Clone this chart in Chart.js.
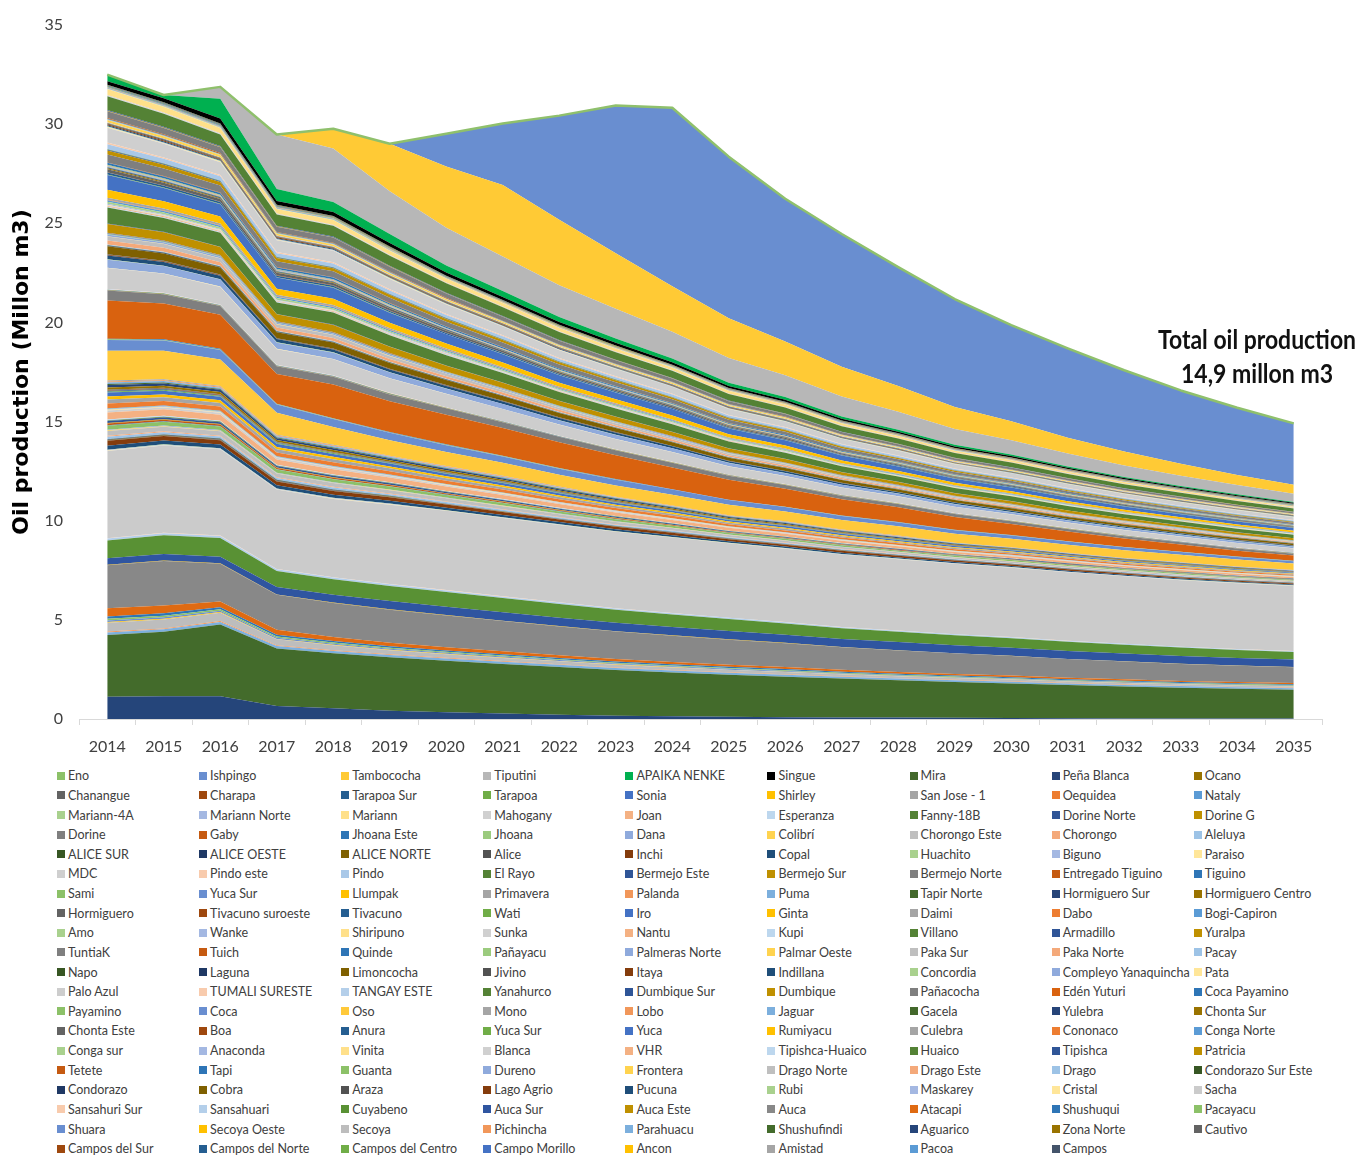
<!DOCTYPE html>
<html>
<head>
<meta charset="utf-8">
<script src="https://cdn.jsdelivr.net/npm/chart.js@4.4.1/dist/chart.umd.min.js"></script>
<style>
  body { margin: 0; background: #fff; width: 1360px; height: 1156px; position: relative; overflow: hidden; }
  #chart { position: absolute; left: 0; top: 0; }
  #legend {
    position: absolute; left: 57px; top: 766px;
    display: grid; grid-template-columns: repeat(9, 142.1px); grid-auto-rows: 19.63px;
    font: 12.5px Lato, sans-serif; color: #404040;
  }
  .item { display: flex; align-items: center; white-space: nowrap; }
  .box { width: 8px; height: 8px; margin-right: 3px; flex: none; }
</style>
</head>
<body>
<canvas id="chart" width="1360" height="765"></canvas>
<div id="legend"></div>
<script>
// values in hundredths of millon m3, one row per field, legend order (top of stack first)
const years = ['2014','2015','2016','2017','2018','2019','2020','2021','2022','2023','2024',
               '2025','2026','2027','2028','2029','2030','2031','2032','2033','2034','2035'];

const topFields = ['Eno','Ishpingo','Tambococha','Tiputini','APAIKA NENKE','Singue'];
const topValues = [
  [0,0,0,0,0,0,0,0,0,0,0,0,0,0,0,0,0,0,0,0,0,0],
  [0,0,0,0,0,0,165,310,525,745,900,815,720,670,600,545,485,450,410,370,340,310],
  [0,0,0,0,100,240,310,360,330,280,230,200,170,150,130,110,95,80,70,60,50,45],
  [0,0,60,275,270,215,190,175,160,150,135,125,110,100,90,80,72,65,58,52,47,42],
  [34,17,100,60,50,45,35,30,26,22,19,16,14,12,10,9,8,7,6,5,5,4],
  [17,20,25,20,20,18,16,15,14,13,12,11,10,9,8,7,7,6,6,5,5,5]
];

const upperFields = ['Mira','Peña Blanca','Ocano','Chanangue','Charapa','Tarapoa Sur','Tarapoa','Sonia','Shirley',
  'San Jose - 1','Oequidea','Nataly','Mariann-4A','Mariann Norte','Mariann','Mahogany','Joan','Esperanza',
  'Fanny-18B','Dorine Norte','Dorine G','Dorine','Gaby','Jhoana Este','Jhoana','Dana','Colibrí',
  'Chorongo Este','Chorongo','Aleluya'];
const upperValues = [
  [2,2,2,2,2,2,1,1,1,1,1,1,1,1,1,1,1,1,1,1,1,1],
  [1,1,1,1,1,1,1,1,1,1,1,1,1,1,1,1,1,1,1,1,1,1],
  [1,1,1,1,1,1,1,1,1,1,1,1,1,1,1,1,1,1,1,1,1,1],
  [1,1,1,1,1,1,1,1,1,1,1,1,1,1,1,1,1,1,1,1,1,1],
  [1,1,1,1,1,1,1,1,1,1,1,1,1,1,1,1,1,1,1,1,1,1],
  [2,2,2,2,2,2,1,1,1,1,1,1,1,1,1,1,1,1,1,1,1,1],
  [3,3,3,2,2,2,2,2,2,2,1,1,1,1,1,1,1,1,1,1,1,1],
  [2,2,2,2,2,2,1,1,1,1,1,1,1,1,1,1,1,1,1,1,1,1],
  [1,1,1,1,1,1,1,1,1,1,1,1,1,1,1,1,1,1,1,1,1,1],
  [2,2,2,2,2,2,1,1,1,1,1,1,1,1,1,1,1,1,1,1,1,1],
  [1,1,1,1,1,1,1,1,1,1,1,1,1,1,1,1,1,1,1,1,1,1],
  [2,2,2,2,2,2,1,1,1,1,1,1,1,1,1,1,1,1,1,1,1,1],
  [2,2,2,2,2,2,1,1,1,1,1,1,1,1,1,1,1,1,1,1,1,1],
  [1,1,1,1,1,1,1,1,1,1,1,1,1,1,1,1,1,1,1,1,1,1],
  [30,29,27,23,23,21,20,18,17,15,14,13,12,11,10,9,9,8,8,7,7,6],
  [3,3,3,2,2,2,2,2,2,2,1,1,1,1,1,1,1,1,1,1,1,1],
  [1,1,1,1,1,1,1,1,1,1,1,1,1,1,1,1,1,1,1,1,1,1],
  [2,2,2,2,2,2,1,1,1,1,1,1,1,1,1,1,1,1,1,1,1,1],
  [70,66,58,56,55,50,47,44,41,38,36,33,30,28,26,24,23,21,20,19,18,17],
  [4,4,4,3,3,3,3,2,2,2,2,2,2,1,1,1,1,1,1,1,1,1],
  [2,2,2,2,2,2,1,1,1,1,1,1,1,1,1,1,1,1,1,1,1,1],
  [34,32,30,27,26,24,22,20,19,17,16,14,13,12,11,10,10,9,8,8,7,7],
  [4,4,4,3,3,3,3,2,2,2,2,2,2,1,1,1,1,1,1,1,1,1],
  [2,2,2,2,2,2,1,1,1,1,1,1,1,1,1,1,1,1,1,1,1,1],
  [2,2,2,2,2,2,1,1,1,1,1,1,1,1,1,1,1,1,1,1,1,1],
  [2,2,2,2,2,2,1,1,1,1,1,1,1,1,1,1,1,1,1,1,1,1],
  [12,11,11,9,9,8,8,7,6,6,6,5,5,4,4,4,3,3,3,3,3,2],
  [1,1,1,1,1,1,1,1,1,1,1,1,1,1,1,1,1,1,1,1,1,1],
  [1,1,1,1,1,1,1,1,1,1,1,1,1,1,1,1,1,1,1,1,1,1],
  [1,1,1,1,1,1,1,1,1,1,1,1,1,1,1,1,1,1,1,1,1,1]
];

const centralFields = ['ALICE SUR','ALICE OESTE','ALICE NORTE','Alice','Inchi','Copal','Huachito','Biguno','Paraiso',
  'MDC','Pindo este','Pindo','El Rayo','Bermejo Este','Bermejo Sur','Bermejo Norte','Entregado Tiguino','Tiguino',
  'Sami','Yuca Sur','Llumpak','Primavera','Palanda','Puma','Tapir Norte','Hormiguero Sur','Hormiguero  Centro',
  'Hormiguero','Tivacuno suroeste','Tivacuno','Wati','Iro','Ginta','Daimi','Dabo','Bogi-Capiron'];
const centralValues = [
  [1,1,1,1,1,1,1,1,1,1,1,1,1,1,1,1,1,1,1,1,1,1],
  [1,1,1,1,1,1,1,1,1,1,1,1,1,1,1,1,1,1,1,1,1,1],
  [1,1,1,1,1,1,1,1,1,1,1,1,1,1,1,1,1,1,1,1,1,1],
  [4,4,4,3,3,3,3,2,2,2,2,2,2,1,1,1,1,1,1,1,1,1],
  [5,5,4,4,4,3,3,3,3,2,2,2,2,2,2,1,1,1,1,1,1,1],
  [5,5,4,4,4,3,3,3,3,2,2,2,2,2,2,1,1,1,1,1,1,1],
  [2,2,2,2,2,2,1,1,1,1,1,1,1,1,1,1,1,1,1,1,1,1],
  [2,2,2,2,2,2,1,1,1,1,1,1,1,1,1,1,1,1,1,1,1,1],
  [3,3,3,2,2,2,2,2,2,2,1,1,1,1,1,1,1,1,1,1,1,1],
  [75,69,64,60,58,52,48,44,40,37,35,31,28,26,24,22,21,20,18,17,16,15],
  [8,7,7,6,6,6,5,5,4,4,4,3,3,3,3,2,2,2,2,2,2,2],
  [25,23,22,19,19,17,16,15,13,12,12,10,9,9,8,7,7,7,6,6,5,5],
  [3,3,3,2,2,2,2,2,2,2,1,1,1,1,1,1,1,1,1,1,1,1],
  [4,4,4,3,3,3,3,2,2,2,2,2,2,1,1,1,1,1,1,1,1,1],
  [20,19,18,16,15,14,13,12,11,10,9,8,8,7,6,6,6,5,5,5,4,4],
  [40,38,35,30,30,27,25,23,21,19,18,16,15,14,13,12,11,10,10,9,9,8],
  [2,2,2,2,2,2,1,1,1,1,1,1,1,1,1,1,1,1,1,1,1,1],
  [10,9,9,8,8,7,6,6,5,5,5,4,4,3,3,3,3,3,2,2,2,2],
  [2,2,2,2,2,2,1,1,1,1,1,1,1,1,1,1,1,1,1,1,1,1],
  [2,2,2,2,2,2,1,1,1,1,1,1,1,1,1,1,1,1,1,1,1,1],
  [1,1,1,1,1,1,1,1,1,1,1,1,1,1,1,1,1,1,1,1,1,1],
  [2,2,2,2,2,2,1,1,1,1,1,1,1,1,1,1,1,1,1,1,1,1],
  [2,2,2,2,2,2,1,1,1,1,1,1,1,1,1,1,1,1,1,1,1,1],
  [3,3,3,2,2,2,2,2,2,2,1,1,1,1,1,1,1,1,1,1,1,1],
  [2,2,2,2,2,2,1,1,1,1,1,1,1,1,1,1,1,1,1,1,1,1],
  [4,4,4,3,3,3,3,2,2,2,2,2,2,1,1,1,1,1,1,1,1,1],
  [4,4,4,3,3,3,3,2,2,2,2,2,2,1,1,1,1,1,1,1,1,1],
  [15,14,13,12,12,10,10,9,8,7,7,6,6,5,5,4,4,4,4,3,3,3],
  [2,2,2,2,2,2,1,1,1,1,1,1,1,1,1,1,1,1,1,1,1,1],
  [10,9,9,8,8,7,6,6,5,5,5,4,4,3,3,3,3,3,2,2,2,2],
  [2,2,2,2,2,2,1,1,1,1,1,1,1,1,1,1,1,1,1,1,1,1],
  [75,67,62,56,56,50,46,42,38,35,33,29,27,25,23,21,20,19,17,16,15,14],
  [40,37,35,31,31,28,26,24,21,20,19,16,15,14,13,12,11,10,10,9,9,8],
  [10,9,9,8,8,7,6,6,5,5,5,4,4,3,3,3,3,3,2,2,2,2],
  [3,3,3,2,2,2,2,2,2,2,1,1,1,1,1,1,1,1,1,1,1,1],
  [8,7,7,6,6,6,5,5,4,4,4,3,3,3,3,2,2,2,2,2,2,2]
];

const middleFields = ['Amo','Wanke','Shiripuno','Sunka','Nantu','Kupi','Villano','Armadillo','Yuralpa',
  'TuntiaK','Tuich','Quinde','Pañayacu','Palmeras Norte','Palmar Oeste','Paka Sur','Paka Norte','Pacay',
  'Napo','Laguna','Limoncocha','Jivino','Itaya','Indillana','Concordia','Compleyo Yanaquincha','Pata',
  'Palo Azul','TUMALI SURESTE','TANGAY ESTE','Yanahurco','Dumbique Sur','Dumbique','Pañacocha','Edén Yuturi','Coca Payamino'];
const middleValues = [
  [10,9,9,8,8,7,6,6,5,5,5,4,4,3,3,3,3,3,2,2,2,2],
  [4,4,4,3,3,3,3,2,2,2,2,2,2,1,1,1,1,1,1,1,1,1],
  [3,3,3,2,2,2,2,2,2,2,1,1,1,1,1,1,1,1,1,1,1,1],
  [4,4,4,3,3,3,3,2,2,2,2,2,2,1,1,1,1,1,1,1,1,1],
  [4,4,4,3,3,3,3,2,2,2,2,2,2,1,1,1,1,1,1,1,1,1],
  [4,4,4,3,3,3,3,2,2,2,2,2,2,1,1,1,1,1,1,1,1,1],
  [80,70,70,58,61,56,52,48,44,41,38,34,31,29,27,25,24,22,20,19,18,17],
  [2,2,2,2,2,2,1,1,1,1,1,1,1,1,1,1,1,1,1,1,1,1],
  [45,42,40,35,35,31,29,27,24,22,21,18,17,15,14,13,13,12,11,10,10,9],
  [2,2,2,2,2,2,1,1,1,1,1,1,1,1,1,1,1,1,1,1,1,1],
  [2,2,2,2,2,2,1,1,1,1,1,1,1,1,1,1,1,1,1,1,1,1],
  [2,2,2,2,2,2,1,1,1,1,1,1,1,1,1,1,1,1,1,1,1,1],
  [3,3,3,2,2,2,2,2,2,2,1,1,1,1,1,1,1,1,1,1,1,1],
  [8,7,7,6,6,6,5,5,4,4,4,3,3,3,3,2,2,2,2,2,2,2],
  [2,2,2,2,2,2,1,1,1,1,1,1,1,1,1,1,1,1,1,1,1,1],
  [20,19,18,16,15,14,13,12,11,10,9,8,8,7,6,6,6,5,5,5,4,4],
  [20,19,18,16,15,14,13,12,11,10,9,8,8,7,6,6,6,5,5,5,4,4],
  [4,4,4,3,3,3,3,2,2,2,2,2,2,1,1,1,1,1,1,1,1,1],
  [2,2,2,2,2,2,1,1,1,1,1,1,1,1,1,1,1,1,1,1,1,1],
  [3,3,3,2,2,2,2,2,2,2,1,1,1,1,1,1,1,1,1,1,1,1],
  [40,37,35,31,31,28,26,24,21,20,19,16,15,14,13,12,11,10,10,9,9,8],
  [3,3,3,2,2,2,2,2,2,2,1,1,1,1,1,1,1,1,1,1,1,1],
  [3,3,3,2,2,2,2,2,2,2,1,1,1,1,1,1,1,1,1,1,1,1],
  [20,19,18,16,15,14,13,12,11,10,9,8,8,7,6,6,6,5,5,5,4,4],
  [2,2,2,2,2,2,1,1,1,1,1,1,1,1,1,1,1,1,1,1,1,1],
  [40,37,35,31,31,28,26,24,21,20,19,16,15,14,13,12,11,10,10,9,9,8],
  [2,2,2,2,2,2,1,1,1,1,1,1,1,1,1,1,1,1,1,1,1,1],
  [105,95,88,78,80,72,67,61,56,51,48,42,39,36,33,31,29,27,25,23,22,21],
  [2,2,2,2,2,2,1,1,1,1,1,1,1,1,1,1,1,1,1,1,1,1],
  [2,2,2,2,2,2,1,1,1,1,1,1,1,1,1,1,1,1,1,1,1,1],
  [2,2,2,2,2,2,1,1,1,1,1,1,1,1,1,1,1,1,1,1,1,1],
  [1,1,1,1,1,1,1,1,1,1,1,1,1,1,1,1,1,1,1,1,1,1],
  [1,1,1,1,1,1,1,1,1,1,1,1,1,1,1,1,1,1,1,1,1,1],
  [50,47,44,39,39,35,32,29,27,25,23,21,19,17,16,15,14,13,12,11,11,10],
  [193,180,172,150,170,155,150,140,130,120,110,100,90,82,75,65,55,48,42,36,30,26],
  [3,3,3,2,2,2,2,2,2,2,1,1,1,1,1,1,1,1,1,1,1,1]
];

const lowerFields = ['Payamino','Coca','Oso','Mono','Lobo','Jaguar','Gacela','Yulebra','Chonta Sur',
  'Chonta Este','Boa','Anura','Yuca Sur','Yuca','Rumiyacu','Culebra','Cononaco','Conga Norte',
  'Conga sur','Anaconda','Vinita','Blanca','VHR','Tipishca-Huaico','Huaico','Tipishca','Patricia',
  'Tetete','Tapi','Guanta','Dureno','Frontera','Drago Norte','Drago Este','Drago','Condorazo Sur Este',
  'Condorazo','Cobra','Araza','Lago Agrio','Pucuna','Rubi','Maskarey','Cristal','Sacha'];
const lowerValues = [
  [3,3,3,2,2,2,2,2,2,2,1,1,1,1,1,1,1,1,1,1,1,1],
  [55,52,48,42,40,37,35,32,30,28,26,24,22,20,19,18,17,16,15,14,13,12],
  [150,143,134,110,90,78,70,65,60,57,54,52,50,48,47,45,43,41,39,37,35,33],
  [5,5,4,4,4,3,3,3,3,2,2,2,2,2,2,1,1,1,1,1,1,1],
  [5,5,4,4,4,3,3,3,3,2,2,2,2,2,2,1,1,1,1,1,1,1],
  [8,7,7,6,6,6,5,5,4,4,4,3,3,3,3,2,2,2,2,2,2,2],
  [5,5,4,4,4,3,3,3,3,2,2,2,2,2,2,1,1,1,1,1,1,1],
  [12,11,11,9,9,8,8,7,6,6,6,5,5,4,4,4,3,3,3,3,3,2],
  [12,11,11,9,9,8,8,7,6,6,6,5,5,4,4,4,3,3,3,3,3,2],
  [3,3,3,2,2,2,2,2,2,2,1,1,1,1,1,1,1,1,1,1,1,1],
  [3,3,3,2,2,2,2,2,2,2,1,1,1,1,1,1,1,1,1,1,1,1],
  [3,3,3,2,2,2,2,2,2,2,1,1,1,1,1,1,1,1,1,1,1,1],
  [5,5,4,4,4,3,3,3,3,2,2,2,2,2,2,1,1,1,1,1,1,1],
  [20,19,18,16,15,14,13,12,11,10,9,8,8,7,6,6,6,5,5,5,4,4],
  [15,14,13,12,12,10,10,9,8,7,7,6,6,5,5,4,4,4,4,3,3,3],
  [20,19,18,16,15,14,13,12,11,10,9,8,8,7,6,6,6,5,5,5,4,4],
  [25,23,22,19,19,17,16,15,13,12,12,10,9,9,8,7,7,7,6,6,5,5],
  [2,2,2,2,2,2,1,1,1,1,1,1,1,1,1,1,1,1,1,1,1,1],
  [2,2,2,2,2,2,1,1,1,1,1,1,1,1,1,1,1,1,1,1,1,1],
  [3,3,3,2,2,2,2,2,2,2,1,1,1,1,1,1,1,1,1,1,1,1],
  [3,3,3,2,2,2,2,2,2,2,1,1,1,1,1,1,1,1,1,1,1,1],
  [10,9,9,8,8,7,6,6,5,5,5,4,4,3,3,3,3,3,2,2,2,2],
  [35,33,31,27,27,24,23,21,19,17,16,14,13,12,11,10,10,9,8,8,8,7],
  [5,5,4,4,4,3,3,3,3,2,2,2,2,2,2,1,1,1,1,1,1,1],
  [3,3,3,2,2,2,2,2,2,2,1,1,1,1,1,1,1,1,1,1,1,1],
  [10,9,9,8,8,7,6,6,5,5,5,4,4,3,3,3,3,3,2,2,2,2],
  [3,3,3,2,2,2,2,2,2,2,1,1,1,1,1,1,1,1,1,1,1,1],
  [8,7,7,6,6,6,5,5,4,4,4,3,3,3,3,2,2,2,2,2,2,2],
  [3,3,3,2,2,2,2,2,2,2,1,1,1,1,1,1,1,1,1,1,1,1],
  [20,19,18,16,15,14,13,12,11,10,9,8,8,7,6,6,6,5,5,5,4,4],
  [3,3,3,2,2,2,2,2,2,2,1,1,1,1,1,1,1,1,1,1,1,1],
  [3,3,3,2,2,2,2,2,2,2,1,1,1,1,1,1,1,1,1,1,1,1],
  [25,23,22,19,19,17,16,15,13,12,12,10,9,9,8,7,7,7,6,6,5,5],
  [5,5,4,4,4,3,3,3,3,2,2,2,2,2,2,1,1,1,1,1,1,1],
  [12,11,11,9,9,8,8,7,6,6,6,5,5,4,4,4,3,3,3,3,3,2],
  [2,2,2,2,2,2,1,1,1,1,1,1,1,1,1,1,1,1,1,1,1,1],
  [2,2,2,2,2,2,1,1,1,1,1,1,1,1,1,1,1,1,1,1,1,1],
  [2,2,2,2,2,2,1,1,1,1,1,1,1,1,1,1,1,1,1,1,1,1],
  [2,2,2,2,2,2,1,1,1,1,1,1,1,1,1,1,1,1,1,1,1,1],
  [25,23,22,19,19,17,16,15,13,12,12,10,9,9,8,7,7,7,6,6,5,5],
  [20,19,18,16,15,14,13,12,11,10,9,8,8,7,6,6,6,5,5,5,4,4],
  [2,2,2,2,2,2,1,1,1,1,1,1,1,1,1,1,1,1,1,1,1,1],
  [2,2,2,2,2,2,1,1,1,1,1,1,1,1,1,1,1,1,1,1,1,1],
  [2,2,2,2,2,2,1,1,1,1,1,1,1,1,1,1,1,1,1,1,1,1],
  [440,440,435,400,395,400,400,395,390,385,380,375,370,365,360,355,350,345,340,335,332,328]
];

const baseFields = ['Sansahuri Sur','Sansahuari','Cuyabeno','Auca Sur','Auca Este','Auca','Atacapi','Shushuqui',
  'Pacayacu','Shuara','Secoya Oeste','Secoya','Pichincha','Parahuacu','Shushufindi','Aguarico','Zona Norte',
  'Cautivo','Campos del Sur','Campos del Norte','Campos del Centro','Campo Morillo','Ancon','Amistad','Pacoa','Campos'];
const baseValues = [
  [2,2,2,2,2,2,2,2,2,2,2,1,1,1,1,1,1,1,1,1,1,1],
  [10,10,10,9,8,8,7,7,7,6,6,6,6,5,5,5,5,5,5,4,4,4],
  [89,95,95,80,78,76,75,72,69,66,63,60,57,54,52,50,48,46,44,42,40,38],
  [33,33,33,38,40,42,42,42,42,42,42,42,41,41,41,40,40,40,39,39,38,38],
  [2,2,2,2,2,2,2,2,2,2,2,2,2,1,1,1,1,1,1,1,1,1],
  [217,224,190,176,171,166,160,152,145,138,132,126,120,114,109,104,99,94,90,86,83,80],
  [42,40,30,25,20,18,16,15,14,13,12,11,10,10,9,8,8,7,7,6,6,6],
  [12,12,10,9,8,8,7,7,7,6,6,6,6,5,5,5,5,5,4,4,4,4],
  [8,8,7,6,6,5,5,5,4,4,4,4,4,3,3,3,3,3,3,3,3,3],
  [8,8,7,6,6,5,5,5,4,4,4,4,4,3,3,3,3,3,3,3,3,3],
  [3,3,3,2,2,2,2,2,2,2,2,1,1,1,1,1,1,1,1,1,1,1],
  [45,45,42,30,25,20,18,16,15,14,13,12,11,10,10,9,9,8,8,7,7,7],
  [5,5,5,4,4,4,4,3,3,3,3,3,3,3,2,2,2,2,2,2,2,2],
  [12,12,12,12,12,12,11,11,11,10,10,10,10,9,9,9,9,8,8,8,8,8],
  [312,325,362,290,277,269,260,250,240,230,220,212,204,196,188,181,174,167,161,155,150,145],
  [112,115,115,66,54,42,34,28,22,17,14,11,9,8,7,6,5,4,3,3,2,2],
  [0,0,0,0,0,0,0,0,0,0,0,0,0,0,0,0,0,0,0,0,0,0],
  [0,0,0,0,0,0,0,0,0,0,0,0,0,0,0,0,0,0,0,0,0,0],
  [0,0,0,0,0,0,0,0,0,0,0,0,0,0,0,0,0,0,0,0,0,0],
  [0,0,0,0,0,0,0,0,0,0,0,0,0,0,0,0,0,0,0,0,0,0],
  [0,0,0,0,0,0,0,0,0,0,0,0,0,0,0,0,0,0,0,0,0,0],
  [0,0,0,0,0,0,0,0,0,0,0,0,0,0,0,0,0,0,0,0,0,0],
  [0,0,0,0,0,0,0,0,0,0,0,0,0,0,0,0,0,0,0,0,0,0],
  [0,0,0,0,0,0,0,0,0,0,0,0,0,0,0,0,0,0,0,0,0,0],
  [0,0,0,0,0,0,0,0,0,0,0,0,0,0,0,0,0,0,0,0,0,0],
  [0,0,0,0,0,0,0,0,0,0,0,0,0,0,0,0,0,0,0,0,0,0]
];

const totalNote = ['Total oil production', '14,9 millon m3'];

// colours, same order as the legend
const fieldColors = [
  '#8CC168','#698ED0','#FFCA35','#B7B7B7','#00B050','#000000',
  '#43682B','#264478','#997300','#636363','#9E480E','#255E91','#70AD47','#4472C4','#FFC000','#A5A5A5',
  '#ED7D31','#5B9BD5','#A9D18E','#A4B8E2','#FFE08A','#D0D0D0','#F4B183','#BDD7EE','#548235','#2F5597',
  '#BF9000','#7F7F7F','#C55A11','#2E75B6','#9BCB7E','#8FAADC','#FFD34F','#BFBFBF','#F4A97A','#9DC3E6',
  '#375623','#1F3864','#7F6000','#525252','#843C0C','#1F4E79','#A9D18E','#A4B8E2','#FFE699','#CFCFCF',
  '#F8CBAD','#A9C8E8','#548235','#2F5597','#BF9000','#7F7F7F','#C55A11','#2E75B6','#8CC168','#698ED0',
  '#FFC000','#A5A5A5','#F1975A','#7CAFDD','#43682B','#264478','#997300','#636363','#9E480E','#255E91',
  '#70AD47','#4472C4','#FFC000','#A5A5A5','#ED7D31','#5B9BD5',
  '#A9D18E','#A4B8E2','#FFE08A','#D0D0D0','#F4B183','#BDD7EE','#548235','#2F5597','#BF9000','#7F7F7F',
  '#C55A11','#2E75B6','#9BCB7E','#8FAADC','#FFD34F','#BFBFBF','#F4A97A','#9DC3E6','#375623','#1F3864',
  '#7F6000','#525252','#843C0C','#1F4E79','#A9D18E','#8FAADC','#FFE699','#CDCDCD','#F8CBAD','#B4CFEA',
  '#548235','#2F5597','#BF9000','#7F7F7F','#D9620F','#2E75B6',
  '#8CC168','#698ED0','#FFC93A','#A5A5A5','#F1975A','#7CAFDD','#43682B','#264478','#997300','#636363',
  '#9E480E','#255E91','#70AD47','#4472C4','#FFC000','#A5A5A5','#ED7D31','#5B9BD5','#A9D18E','#A4B8E2',
  '#FFE08A','#D0D0D0','#F4B183','#BDD7EE','#548235','#2F5597','#BF9000','#C55A11','#2E75B6','#8CC168',
  '#8FAADC','#FFD34F','#BFBFBF','#F4A97A','#9DC3E6','#375623','#1F3864','#7F6000','#525252','#843C0C',
  '#1F4E79','#A9D18E','#A4B8E2','#FFE699','#CBCBCB',
  '#F8CBAD','#B4CFEA','#599134','#2F55A0','#BF9000','#888888','#DF6A12','#2E75B6','#8CC168','#698ED0',
  '#FFC000','#BDBDBD','#F1975A','#7CAFDD','#436B2B','#25457A','#997300','#636363','#9E480E','#255E91',
  '#70AD47','#4472C4','#FFC000','#A5A5A5','#5B9BD5','#44546A'
];

const fieldNames = [...topFields, ...upperFields, ...centralFields, ...middleFields, ...lowerFields, ...baseFields];
const fieldValues = [...topValues, ...upperValues, ...centralValues, ...middleValues, ...lowerValues, ...baseValues];

// bottom of the stack first for Chart.js
const datasets = fieldNames.map((name, i) => ({
  label: name,
  data: fieldValues[i].map(v => v / 100),
  backgroundColor: fieldColors[i],
  borderColor: fieldColors[i],
  borderWidth: 0,
  pointRadius: 0,
  tension: 0
})).reverse();
datasets.forEach((d, i) => { d.fill = i === 0 ? 'origin' : '-1'; });
datasets[datasets.length - 1].fill = false;

// outline along the top (Eno) and the total label
const overlay = {
  id: 'overlay',
  afterDatasetsDraw(chart) {
    const ctx = chart.ctx;
    const meta = chart.getDatasetMeta(chart.data.datasets.length - 1);
    ctx.save();
    ctx.strokeStyle = '#8FC06C';
    ctx.lineWidth = 2.5;
    ctx.lineJoin = 'round';
    ctx.beginPath();
    meta.data.forEach((p, i) => i ? ctx.lineTo(p.x, p.y) : ctx.moveTo(p.x, p.y));
    ctx.stroke();
    ctx.fillStyle = '#111';
    ctx.font = 'bold 27px Lato';
    ctx.textAlign = 'center';
    ctx.fillText(totalNote[0], 1257, 349, 198);
    ctx.fillText(totalNote[1], 1257, 383, 152);
    ctx.restore();
  }
};

new Chart(document.getElementById('chart'), {
  type: 'line',
  data: { labels: years, datasets },
  options: {
    responsive: false,
    animation: false,
    layout: { padding: { top: 25, right: 38, bottom: 0, left: 0 } },
    plugins: { legend: { display: false }, tooltip: { enabled: false } },
    scales: {
      x: {
        offset: true,
        grid: { display: true, drawOnChartArea: false, drawTicks: true, tickLength: 6, color: '#d9d9d9', offset: true },
        border: { display: true, color: '#d9d9d9' },
        ticks: { font: { family: 'Lato', size: 16 }, color: '#404040', padding: 12, maxRotation: 0, autoSkip: false },
        afterFit(s) { s.height = 46; }
      },
      y: {
        stacked: true,
        min: 0, max: 35,
        grid: { display: false },
        border: { display: false },
        ticks: { stepSize: 5, font: { family: 'Lato', size: 16 }, color: '#404040', padding: 8 },
        title: { display: true, text: 'Oil production (Millon m3)', color: '#000',
                 font: { family: 'DejaVu Sans', size: 22, weight: 'bold' }, padding: { top: 9, bottom: 0 } },
        afterFit(s) { s.width = 79; }
      }
    }
  },
  plugins: [overlay]
});

// legend in nine columns, same order as the source
const legend = document.getElementById('legend');
fieldNames.forEach((name, i) => {
  const item = document.createElement('div');
  item.className = 'item';
  const box = document.createElement('span');
  box.className = 'box';
  box.style.background = fieldColors[i];
  item.appendChild(box);
  item.appendChild(document.createTextNode(name));
  legend.appendChild(item);
});
</script>
</body>
</html>
